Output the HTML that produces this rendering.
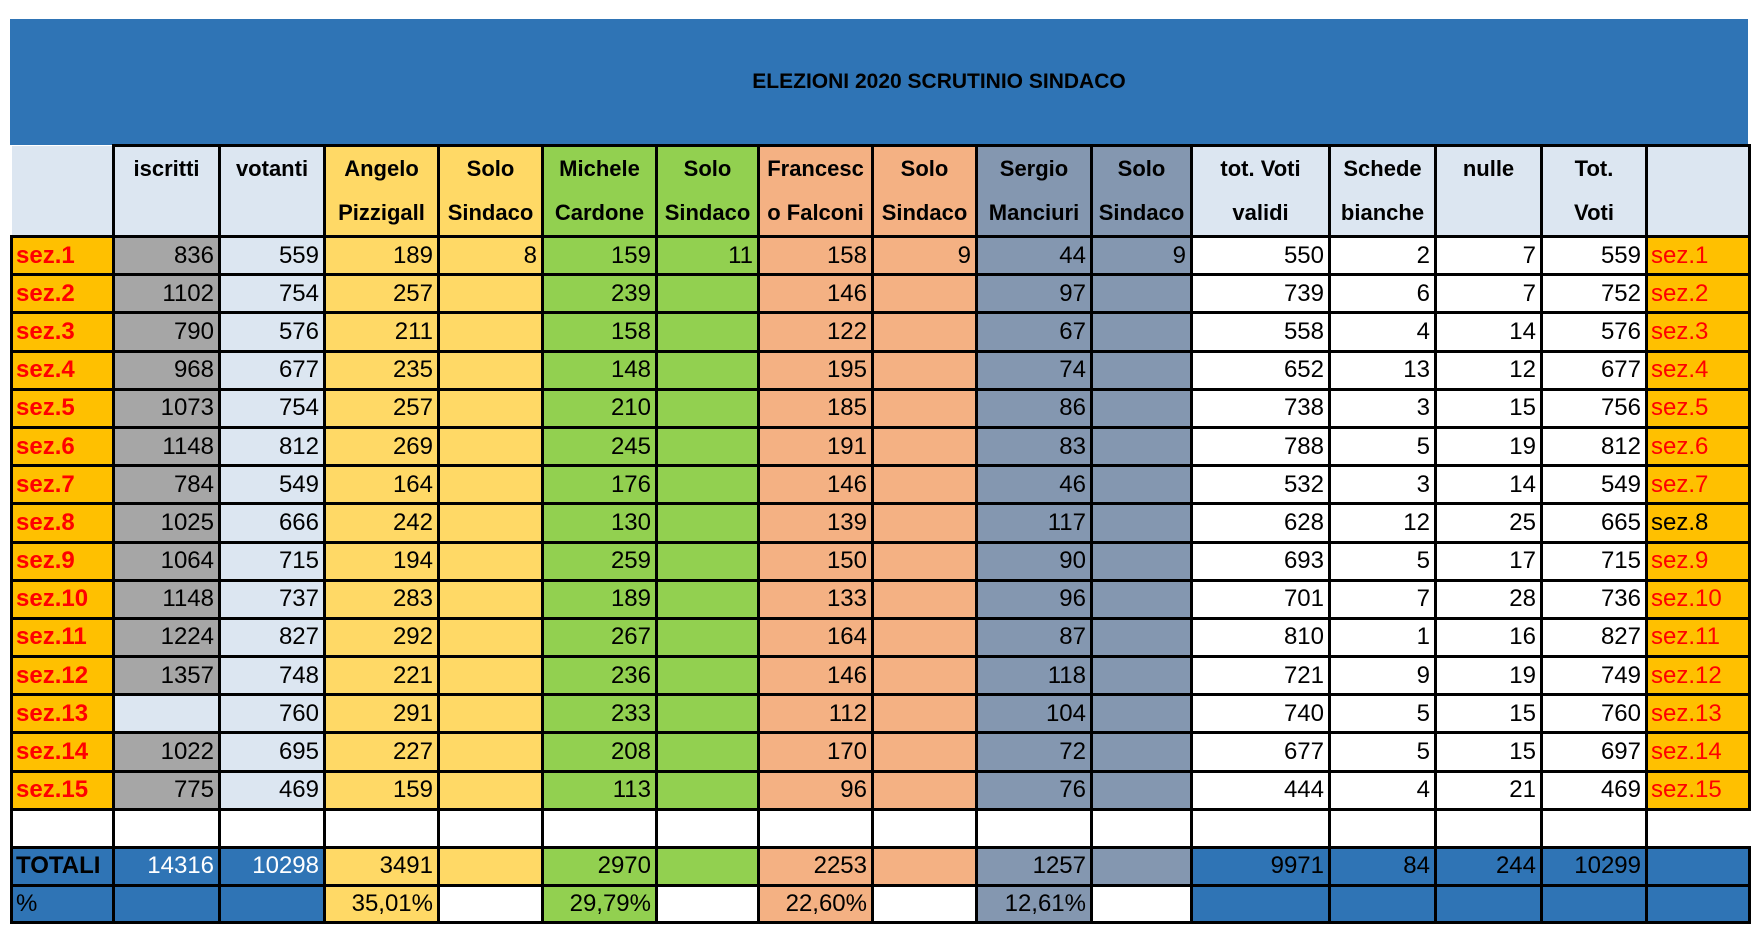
<!DOCTYPE html>
<html><head><meta charset="utf-8"><style>
body{margin:0;width:1762px;height:942px;background:#fff;position:relative;overflow:hidden;font-family:"Liberation Sans",Arial,sans-serif}
#ban{position:absolute;left:10px;top:19px;width:1738px;height:126px;background:#2f74b5}
#ban div{position:absolute;left:0;width:100%;top:51px;text-align:center;padding-left:120px;box-sizing:border-box;font-weight:bold;font-size:21px}
table{position:absolute;left:10px;top:144px;border-collapse:collapse;table-layout:fixed;width:1738px}
td{border:3px solid #000;padding:0 4px 0 3px;font-size:24px;text-align:right;overflow:hidden;white-space:nowrap;line-height:1}
tr.h td{font-weight:bold;font-size:22px;text-align:center;vertical-align:top;line-height:44px;padding:0}
tr.h td.e{border-left:none;border-top:none}
tr.d{height:38.2px}
.s{background:#ffc000;color:#ff0000;font-weight:bold;text-align:left}
.r{background:#ffc000;color:#ff0000;text-align:left}
.g{background:#a6a6a6}.l{background:#dce6f1}.y{background:#ffd966}.gr{background:#92d050}.o{background:#f4b183}.sl{background:#8497b0}.w{background:#fff}.b{background:#2f74b5}
</style></head><body>
<div id="ban"><div>ELEZIONI 2020 SCRUTINIO SINDACO</div></div>
<table>
<colgroup><col style="width:102px"><col style="width:106px"><col style="width:105px"><col style="width:114px"><col style="width:104px"><col style="width:114px"><col style="width:102px"><col style="width:114px"><col style="width:104px"><col style="width:115px"><col style="width:100px"><col style="width:138px"><col style="width:106px"><col style="width:106px"><col style="width:105px"><col style="width:103px"></colgroup>
<tr class="h" style="height:86px"><td class="e l"></td><td class="l">iscritti</td><td class="l">votanti</td><td class="y">Angelo<br>Pizzigall</td><td class="y">Solo<br>Sindaco</td><td class="gr">Michele<br>Cardone</td><td class="gr">Solo<br>Sindaco</td><td class="o">Francesc<br>o Falconi</td><td class="o">Solo<br>Sindaco</td><td class="sl">Sergio<br>Manciuri</td><td class="sl">Solo<br>Sindaco</td><td class="l">tot. Voti<br>validi</td><td class="l">Schede<br>bianche</td><td class="l">nulle</td><td class="l">Tot.<br>Voti</td><td class="l"></td></tr>
<tr class="d"><td class="s">sez.1</td><td class="g">836</td><td class="l">559</td><td class="y">189</td><td class="y">8</td><td class="gr">159</td><td class="gr">11</td><td class="o">158</td><td class="o">9</td><td class="sl">44</td><td class="sl">9</td><td class="w">550</td><td class="w">2</td><td class="w">7</td><td class="w">559</td><td class="r">sez.1</td></tr>
<tr class="d"><td class="s">sez.2</td><td class="g">1102</td><td class="l">754</td><td class="y">257</td><td class="y"></td><td class="gr">239</td><td class="gr"></td><td class="o">146</td><td class="o"></td><td class="sl">97</td><td class="sl"></td><td class="w">739</td><td class="w">6</td><td class="w">7</td><td class="w">752</td><td class="r">sez.2</td></tr>
<tr class="d"><td class="s">sez.3</td><td class="g">790</td><td class="l">576</td><td class="y">211</td><td class="y"></td><td class="gr">158</td><td class="gr"></td><td class="o">122</td><td class="o"></td><td class="sl">67</td><td class="sl"></td><td class="w">558</td><td class="w">4</td><td class="w">14</td><td class="w">576</td><td class="r">sez.3</td></tr>
<tr class="d"><td class="s">sez.4</td><td class="g">968</td><td class="l">677</td><td class="y">235</td><td class="y"></td><td class="gr">148</td><td class="gr"></td><td class="o">195</td><td class="o"></td><td class="sl">74</td><td class="sl"></td><td class="w">652</td><td class="w">13</td><td class="w">12</td><td class="w">677</td><td class="r">sez.4</td></tr>
<tr class="d"><td class="s">sez.5</td><td class="g">1073</td><td class="l">754</td><td class="y">257</td><td class="y"></td><td class="gr">210</td><td class="gr"></td><td class="o">185</td><td class="o"></td><td class="sl">86</td><td class="sl"></td><td class="w">738</td><td class="w">3</td><td class="w">15</td><td class="w">756</td><td class="r">sez.5</td></tr>
<tr class="d"><td class="s">sez.6</td><td class="g">1148</td><td class="l">812</td><td class="y">269</td><td class="y"></td><td class="gr">245</td><td class="gr"></td><td class="o">191</td><td class="o"></td><td class="sl">83</td><td class="sl"></td><td class="w">788</td><td class="w">5</td><td class="w">19</td><td class="w">812</td><td class="r">sez.6</td></tr>
<tr class="d"><td class="s">sez.7</td><td class="g">784</td><td class="l">549</td><td class="y">164</td><td class="y"></td><td class="gr">176</td><td class="gr"></td><td class="o">146</td><td class="o"></td><td class="sl">46</td><td class="sl"></td><td class="w">532</td><td class="w">3</td><td class="w">14</td><td class="w">549</td><td class="r">sez.7</td></tr>
<tr class="d"><td class="s">sez.8</td><td class="g">1025</td><td class="l">666</td><td class="y">242</td><td class="y"></td><td class="gr">130</td><td class="gr"></td><td class="o">139</td><td class="o"></td><td class="sl">117</td><td class="sl"></td><td class="w">628</td><td class="w">12</td><td class="w">25</td><td class="w">665</td><td class="r" style="color:#000">sez.8</td></tr>
<tr class="d"><td class="s">sez.9</td><td class="g">1064</td><td class="l">715</td><td class="y">194</td><td class="y"></td><td class="gr">259</td><td class="gr"></td><td class="o">150</td><td class="o"></td><td class="sl">90</td><td class="sl"></td><td class="w">693</td><td class="w">5</td><td class="w">17</td><td class="w">715</td><td class="r">sez.9</td></tr>
<tr class="d"><td class="s">sez.10</td><td class="g">1148</td><td class="l">737</td><td class="y">283</td><td class="y"></td><td class="gr">189</td><td class="gr"></td><td class="o">133</td><td class="o"></td><td class="sl">96</td><td class="sl"></td><td class="w">701</td><td class="w">7</td><td class="w">28</td><td class="w">736</td><td class="r">sez.10</td></tr>
<tr class="d"><td class="s">sez.11</td><td class="g">1224</td><td class="l">827</td><td class="y">292</td><td class="y"></td><td class="gr">267</td><td class="gr"></td><td class="o">164</td><td class="o"></td><td class="sl">87</td><td class="sl"></td><td class="w">810</td><td class="w">1</td><td class="w">16</td><td class="w">827</td><td class="r">sez.11</td></tr>
<tr class="d"><td class="s">sez.12</td><td class="g">1357</td><td class="l">748</td><td class="y">221</td><td class="y"></td><td class="gr">236</td><td class="gr"></td><td class="o">146</td><td class="o"></td><td class="sl">118</td><td class="sl"></td><td class="w">721</td><td class="w">9</td><td class="w">19</td><td class="w">749</td><td class="r">sez.12</td></tr>
<tr class="d"><td class="s">sez.13</td><td class="l"></td><td class="l">760</td><td class="y">291</td><td class="y"></td><td class="gr">233</td><td class="gr"></td><td class="o">112</td><td class="o"></td><td class="sl">104</td><td class="sl"></td><td class="w">740</td><td class="w">5</td><td class="w">15</td><td class="w">760</td><td class="r">sez.13</td></tr>
<tr class="d"><td class="s">sez.14</td><td class="g">1022</td><td class="l">695</td><td class="y">227</td><td class="y"></td><td class="gr">208</td><td class="gr"></td><td class="o">170</td><td class="o"></td><td class="sl">72</td><td class="sl"></td><td class="w">677</td><td class="w">5</td><td class="w">15</td><td class="w">697</td><td class="r">sez.14</td></tr>
<tr class="d"><td class="s">sez.15</td><td class="g">775</td><td class="l">469</td><td class="y">159</td><td class="y"></td><td class="gr">113</td><td class="gr"></td><td class="o">96</td><td class="o"></td><td class="sl">76</td><td class="sl"></td><td class="w">444</td><td class="w">4</td><td class="w">21</td><td class="w">469</td><td class="r">sez.15</td></tr>
<tr style="height:38px"><td></td><td></td><td></td><td></td><td></td><td></td><td></td><td></td><td></td><td></td><td></td><td></td><td></td><td></td><td></td><td style="border-right:none"></td></tr>
<tr style="height:38px"><td class="b" style="font-weight:bold;text-align:left">TOTALI</td><td class="b" style="color:#fff">14316</td><td class="b" style="color:#fff">10298</td><td class="y">3491</td><td class="y"></td><td class="gr">2970</td><td class="gr"></td><td class="o">2253</td><td class="o"></td><td class="sl">1257</td><td class="sl"></td><td class="b">9971</td><td class="b">84</td><td class="b">244</td><td class="b">10299</td><td class="b"></td></tr>
<tr style="height:37px"><td class="b" style="text-align:left">%</td><td class="b"></td><td class="b"></td><td class="y">35,01%</td><td class="w"></td><td class="gr">29,79%</td><td class="w"></td><td class="o">22,60%</td><td class="w"></td><td class="sl">12,61%</td><td class="w"></td><td class="b"></td><td class="b"></td><td class="b"></td><td class="b"></td><td class="b"></td></tr>
</table>
</body></html>
